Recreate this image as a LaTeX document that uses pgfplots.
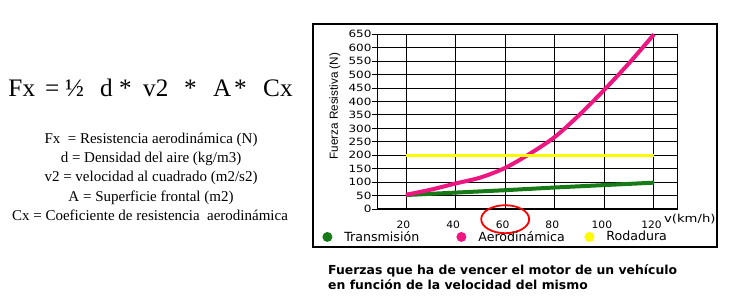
\documentclass[border=0pt]{standalone}
\usepackage{pgfplots}
\pgfplotsset{compat=1.18}
\usepackage{fontspec}
\setmainfont{Liberation Serif}
\newfontfamily\arialf{Liberation Sans}
\newfontfamily\verd{DejaVu Sans}
\newfontfamily\verdw[FakeStretch=1.2]{DejaVu Sans}
\newfontfamily\verdx[FakeStretch=1.05]{DejaVu Sans}
\definecolor{cgreen}{RGB}{22,122,22}
\definecolor{cpink}{RGB}{238,22,128}
\definecolor{cyellow}{RGB}{255,250,0}
\begin{document}
\begin{tikzpicture}[x=1pt,y=1pt]
\useasboundingbox (0,0) rectangle (731,300);
% formula
\begin{scope}[every node/.style={anchor=base west,inner sep=0pt,font=\fontsize{25.2}{28}\selectfont}]
\node at (8.3,203.3) {Fx};
\node at (45,203.3) {=};
\node at (65,203.3) {½};
\node at (100,203.3) {d};
\node at (119,203.3) {*};
\node at (143,203.3) {v2};
\node at (184,203.3) {*};
\node at (213,203.3) {A};
\node at (234,203.3) {*};
\node at (263,203.3) {Cx};
\end{scope}
\begin{scope}[every node/.style={anchor=base,inner sep=0pt,font=\fontsize{15}{18}\selectfont}]
\node at (151,156.7) {Fx\ \ = Resistencia aerodinámica (N)};
\node at (151,137.4) {d = Densidad del aire (kg/m3)};
\node at (151,118.0) {v2 = velocidad al cuadrado (m2/s2)};
\node at (151,98.7) {A = Superficie frontal (m2)};
\node at (150,79.3) {Cx = Coeficiente de resistencia\ \ aerodinámica};
\end{scope}
% frame
\draw[line width=2pt] (313,276) rectangle (717,53);
% caption
\node[anchor=base west,inner sep=0pt,font=\verd\bfseries\fontsize{12.4}{15}\selectfont] at (328,26) {Fuerzas que ha de vencer el motor de un vehículo};
\node[anchor=base west,inner sep=0pt,font=\verd\bfseries\fontsize{12.4}{15}\selectfont] at (328,11) {en función de la velocidad del mismo};
\begin{axis}[
  at={(377.7pt,91pt)}, anchor=south west,
  scale only axis, width=300pt, height=174.7pt,
  xmin=8.59, xmax=129.56, ymin=0, ymax=650,
  xtick={20,40,60,80,100,120},
  ytick={0,50,...,650},
  grid=major,
  major grid style={black,line width=1pt},
  axis line style={black,line width=1.5pt},
  tick align=outside,
  ytick pos=left,
  x tick style={draw=none},
  y tick style={black,line width=1pt},
  major tick length=6pt,
  tick label style={font=\verdw\fontsize{10}{12}\selectfont},
  /pgf/number format/assume math mode=true,
  yticklabel style={inner sep=0pt, xshift=0pt},
  xticklabel style={font=\verdx\fontsize{10.2}{12}\selectfont, anchor=base, inner sep=0pt, yshift=-13.3pt, xshift=-2.5pt},
  xlabel={v(km/h)},
  xlabel style={at={(axis description cs:0.954,-0.0784)},anchor=base west,inner sep=0pt,font=\verdw\fontsize{11}{12}\selectfont},
  ylabel={Fuerza Resistiva (N)},
  ylabel style={at={(axis description cs:-0.143,0.588)},anchor=center,rotate=0,inner sep=0pt,font=\arialf\fontsize{11.7}{12}\selectfont},
  legend columns=3,
  legend style={at={(axis description cs:-0.185,-0.16)},anchor=west,draw=none,fill=none,inner sep=0pt,
    font=\verd\fontsize{12.6}{14}\selectfont,
    /tikz/every odd column/.append style={column sep=11pt},
    /tikz/every even column/.append style={column sep=4pt},
    nodes={text width=107pt, inner sep=1pt}},
  legend image code/.code={\fill[#1,draw=none] (5pt,0pt) circle (5pt);},
  clip=false,
]
\addplot[cgreen, line width=4pt] coordinates {(20,52) (40,61) (60,70) (80,80) (100,89) (120,98)};
\addlegendentry{Transmisión}
\addplot[cpink, line width=4pt, smooth] coordinates {(20,53) (30,72) (40,95) (50,117) (60,153) (70,206) (80,268) (90,351) (100,444) (110,543) (120,650)};
\addlegendentry[text width=101pt]{Aerodinámica}
\addplot[cyellow, line width=3pt] coordinates {(20,200) (120,200)};
\addlegendentry[xshift=-5pt]{Rodadura}
\draw[red, line width=1.8pt] (axis cs:60,-38) ellipse [x radius=24pt, y radius=14pt];
\end{axis}
\end{tikzpicture}
\end{document}
